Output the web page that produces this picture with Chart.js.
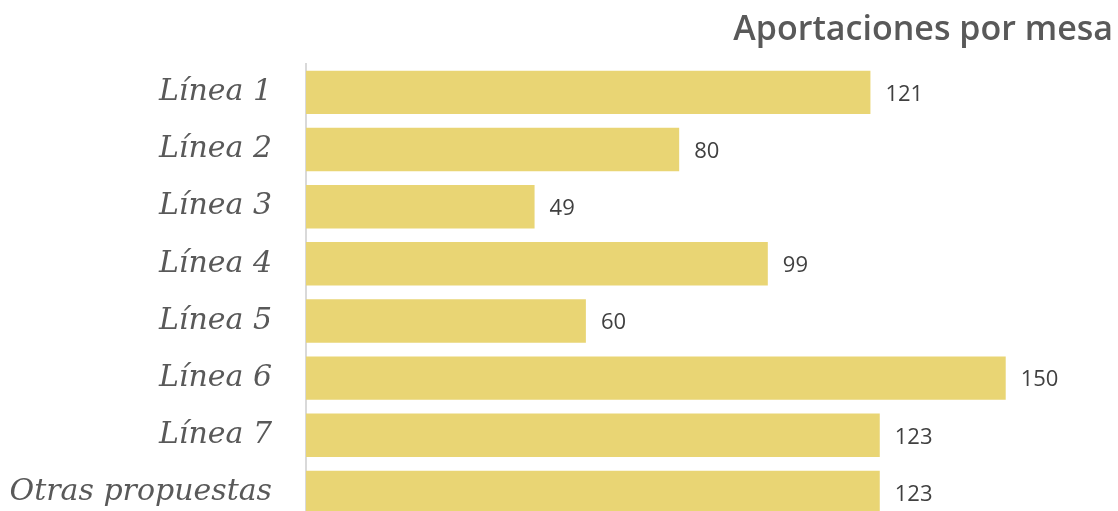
<!DOCTYPE html>
<html>
<head>
<meta charset="utf-8">
<script src="https://cdn.jsdelivr.net/npm/chart.js@4"></script>
<style>
  html, body { margin: 0; padding: 0; background: #fff; overflow: hidden; }
  canvas { display: block; }
</style>
</head>
<body>
<canvas id="chart" width="1118" height="521"></canvas>
<script>
const mesas = ["Línea 1", "Línea 2", "Línea 3", "Línea 4", "Línea 5", "Línea 6", "Línea 7", "Otras propuestas"];
const aportaciones = [121, 80, 49, 99, 60, 150, 123, 123];
const titulo = "Aportaciones por mesa";

// writes the value to the right of each bar
const valueLabels = {
    id: "valueLabels",
    afterDatasetsDraw(chart) {
        const ctx = chart.ctx;
        const meta = chart.getDatasetMeta(0);
        ctx.save();
        ctx.font = "22px 'Open Sans'";
        ctx.fillStyle = "#404040";
        ctx.textAlign = "left";
        ctx.textBaseline = "middle";
        meta.data.forEach((bar, i) => {
            ctx.fillText(String(aportaciones[i]), bar.x + 15, bar.y + 2);
        });
        ctx.restore();
    },
};

const ctx = document.getElementById("chart").getContext("2d");
const myChart = new Chart(ctx, {
    type: "bar",
    data: {
        labels: mesas,
        datasets: [
            {
                label: titulo,
                data: aportaciones,
                backgroundColor: "#E9D574",
                borderWidth: 0,
                categoryPercentage: 0.76,
                barPercentage: 1,
            },
        ],
    },
    options: {
        indexAxis: "y",
        responsive: false,
        animation: false,
        layout: { padding: { top: 0, right: 5, bottom: 0, left: 0 } },
        plugins: {
            legend: { display: false },
            tooltip: { enabled: false },
            title: {
                display: true,
                text: titulo,
                align: "end",
                color: "#595959",
                font: { family: "'Open Sans'", size: 34, weight: "600" },
                padding: { top: 10, bottom: 13 },
            },
        },
        scales: {
            x: {
                display: false,
                min: 0,
                max: 173,
            },
            y: {
                afterFit(scale) {
                    scale.width = 306;
                    scale.paddingTop = 0;
                    scale.paddingBottom = 0;
                },
                grid: { display: false, drawTicks: false },
                border: { display: true, color: "#D9D9D9", width: 2 },
                ticks: {
                    color: "#595959",
                    padding: 34,
                    font: { family: "'DejaVu Serif'", size: 30, style: "italic" },
                },
            },
        },
    },
    plugins: [valueLabels],
});
</script>
</body>
</html>
